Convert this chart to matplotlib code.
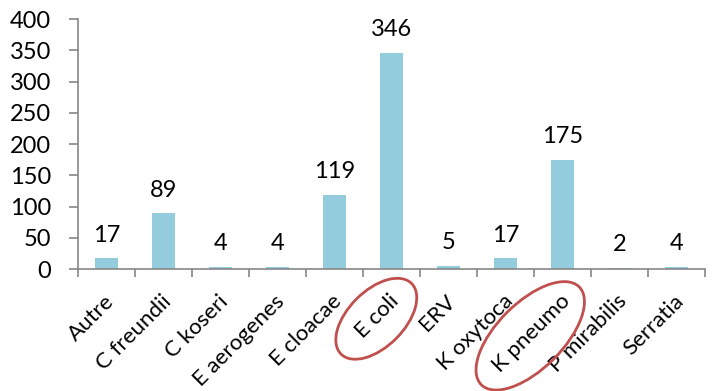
import matplotlib
matplotlib.use("Agg")
import matplotlib.pyplot as plt
from matplotlib.patches import Ellipse
from matplotlib.transforms import ScaledTranslation

categories = ["Autre", "C freundii", "C koseri", "E aerogenes", "E cloacae",
              "E coli", "ERV", "K oxytoca", "K pneumo", "P mirabilis", "Serratia"]
values = [17, 89, 4, 4, 119, 346, 5, 17, 175, 2, 4]
circled = ["E coli", "K pneumo"]
yticks = [0, 50, 100, 150, 200, 250, 300, 350, 400]

plt.rcParams['font.family'] = ['Lato', 'DejaVu Sans']
fig = plt.figure(figsize=(7.15, 3.91), dpi=100)
ax = fig.add_axes([0.109, 0.312, 0.877, 0.639])

x = list(range(len(categories)))
bars = ax.bar(x, values, width=0.39, color="#93CDDD")
for xi, v in zip(x, values):
    ax.annotate(str(v), (xi, v), xytext=(0, 9), textcoords="offset points",
                ha="center", va="bottom", fontsize=17, color="black")

ax.set_xlim(-0.5, len(categories) - 0.5)
ax.set_ylim(0, 400)
ax.set_yticks(yticks)
ax.set_yticklabels([str(t) for t in yticks], fontsize=17)
ax.set_xticks([i - 0.5 for i in range(len(categories) + 1)], minor=False)
ax.set_xticklabels([])
ax.set_xticks(x, minor=True)
ax.set_xticklabels(categories, minor=True, rotation=45, ha="right",
                   rotation_mode="anchor", fontsize=16)
ax.tick_params(axis="x", which="minor", length=0, pad=16)
ax.tick_params(axis="x", which="major", length=6, color="#868686", width=1.2)
ax.tick_params(axis="y", length=6.5, color="#868686", width=1.2, pad=13)
for s in ["top", "right"]:
    ax.spines[s].set_visible(False)
for s in ["left", "bottom"]:
    ax.spines[s].set_color("#868686")
    ax.spines[s].set_linewidth(1.2)

shift = ScaledTranslation(-2 / 72, 0, fig.dpi_scale_trans)
for lbl in ax.get_xticklabels(minor=True):
    lbl.set_transform(lbl.get_transform() + shift)

fig.canvas.draw()
renderer = fig.canvas.get_renderer()
for lbl in ax.get_xticklabels(minor=True):
    if lbl.get_text() in circled:
        bb = lbl.get_window_extent(renderer)
        cx, cy = (bb.x0 + bb.x1) / 2, (bb.y0 + bb.y1) / 2
        length = ((bb.width ** 2 + bb.height ** 2) ** 0.5)
        minor_ax = 56 if lbl.get_text() == "E coli" else 66
        e = Ellipse((cx - 1, cy - 2), width=length * 0.8 + 42, height=minor_ax,
                    angle=45, transform=None, fill=False,
                    edgecolor="#C0504D", linewidth=2)
        fig.add_artist(e)

fig.savefig("out.png", dpi=100)
